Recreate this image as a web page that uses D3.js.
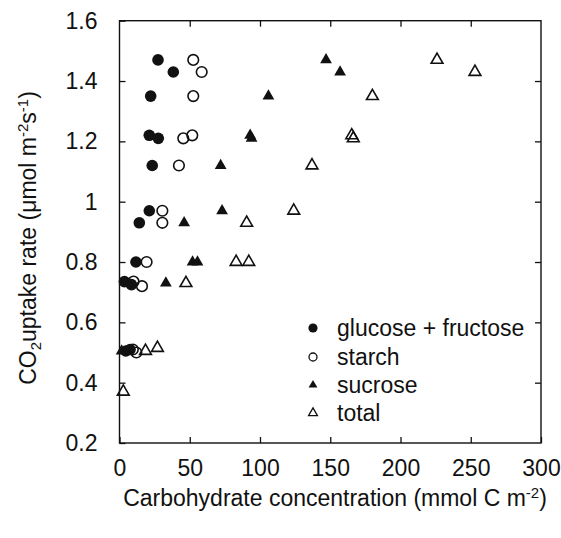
<!DOCTYPE html>
<html>
<head>
<meta charset="utf-8">
<script src="https://cdn.jsdelivr.net/npm/d3@7"></script>
<style>
  body { margin: 0; background: #fff; }
  text { font-family: "Liberation Sans", Arial, sans-serif; fill: #111; }
</style>
</head>
<body>
<script>
// data (x = mmol C m-2, y = umol m-2 s-1)
var gfX = [27.4, 38.3, 22.2, 21.2, 27.6, 23.3, 21.2, 14.1, 11.7, 3.5, 8.5, 4.5, 7.5];
var gfY = [1.47, 1.43, 1.35, 1.22, 1.21, 1.12, 0.97, 0.93, 0.80, 0.735, 0.725, 0.505, 0.51];

var stX = [52.5, 58.5, 52.5, 45.4, 51.8, 42.3, 30.5, 30.5, 19.3, 10, 16, 9.5, 12];
var stY = [1.47, 1.43, 1.35, 1.21, 1.22, 1.12, 0.97, 0.93, 0.80, 0.735, 0.72, 0.51, 0.50];

var suX = [147, 157, 106, 93, 94, 72, 73, 46, 52, 55.5, 33, 1.5];
var suY = [1.47, 1.43, 1.35, 1.22, 1.21, 1.12, 0.97, 0.93, 0.80, 0.80, 0.73, 0.505];

var toX = [226, 253, 180, 165.3, 166.4, 137, 124, 90.5, 83, 92, 47.3, 27, 18.5, 2.7];
var toY = [1.47, 1.43, 1.35, 1.22, 1.21, 1.12, 0.97, 0.93, 0.80, 0.80, 0.73, 0.515, 0.505, 0.37];

var xTicks = [0, 50, 100, 150, 200, 250, 300];
var yTicks = [0.2, 0.4, 0.6, 0.8, 1, 1.2, 1.4, 1.6];
var seriesNames = ["glucose + fructose", "starch", "sucrose", "total"];

var W = 561, H = 538;
var L = 119.5, R = 541, T = 20.7, B = 443;

var svg = d3.select("body").append("svg")
    .attr("width", W)
    .attr("height", H);

var x = d3.scaleLinear().domain([0, 300]).range([L, R]);
var y = d3.scaleLinear().domain([0.2, 1.6]).range([B, T]);

var fmt = function(d){ return String(+d.toFixed(1)); };

// bottom axis, ticks pointing inward
var xAxis = svg.append("g")
    .attr("transform", "translate(0," + B + ")")
    .call(d3.axisBottom(x).tickValues(xTicks).tickSizeInner(-6).tickSizeOuter(0).tickPadding(17).tickFormat(fmt));
// top ticks
var xTop = svg.append("g")
    .attr("transform", "translate(0," + T + ")")
    .call(d3.axisTop(x).tickValues(xTicks.slice(1, -1)).tickSizeInner(-6).tickSizeOuter(0).tickFormat(""));
var yAxis = svg.append("g")
    .attr("transform", "translate(" + L + ",0)")
    .call(d3.axisLeft(y).tickValues(yTicks).tickSizeInner(-6).tickSizeOuter(0).tickPadding(22).tickFormat(fmt));
var yRight = svg.append("g")
    .attr("transform", "translate(" + R + ",0)")
    .call(d3.axisRight(y).tickValues(yTicks.slice(1, -1)).tickSizeInner(-6).tickSizeOuter(0).tickFormat(""));

svg.selectAll(".domain").remove();
svg.selectAll(".tick line").attr("stroke", "#111").attr("stroke-width", 1.3);
svg.selectAll(".tick text").attr("font-size", 23).style("font-family", "'Liberation Sans', Arial, sans-serif").attr("fill", "#111");

// frame
svg.append("rect")
    .attr("x", L).attr("y", T)
    .attr("width", R - L).attr("height", B - T)
    .attr("fill", "none")
    .attr("stroke", "#111")
    .attr("stroke-width", 1.4);

// axis titles
var xt = svg.append("text")
    .attr("x", 335).attr("y", 506)
    .attr("text-anchor", "middle")
    .attr("font-size", 23);
xt.append("tspan").text("Carbohydrate concentration (mmol C m");
xt.append("tspan").attr("dy", -8).attr("font-size", 15).text("-2");
xt.append("tspan").attr("dy", 8).text(")");

var yt = svg.append("text")
    .attr("transform", "translate(36,238) rotate(-90)")
    .attr("text-anchor", "middle")
    .attr("font-size", 23);
yt.append("tspan").text("CO");
yt.append("tspan").attr("dy", 5).attr("font-size", 15).text("2");
yt.append("tspan").attr("dy", -5).text("uptake rate (\u03bcmol m");
yt.append("tspan").attr("dy", -8).attr("font-size", 15).text("-2");
yt.append("tspan").attr("dy", 8).text("s");
yt.append("tspan").attr("dy", -8).attr("font-size", 15).text("-1");
yt.append("tspan").attr("dy", 8).text(")");

var tri = d3.symbol().type(d3.symbolTriangle).size(60);
var triSmall = d3.symbol().type(d3.symbolTriangle).size(34);

function pts(xs, ys){
  return xs.map(function(v, i){ return [v, ys[i]]; });
}

// glucose + fructose
svg.append("g").selectAll("circle")
  .data(pts(gfX, gfY))
  .enter().append("circle")
    .attr("cx", function(d){ return x(d[0]); })
    .attr("cy", function(d){ return y(d[1]); })
    .attr("r", 5.8)
    .attr("fill", "#111");

// starch
svg.append("g").selectAll("circle")
  .data(pts(stX, stY))
  .enter().append("circle")
    .attr("cx", function(d){ return x(d[0]); })
    .attr("cy", function(d){ return y(d[1]); })
    .attr("r", 5.3)
    .attr("fill", "none")
    .attr("stroke", "#111")
    .attr("stroke-width", 1.6);

// sucrose
svg.append("g").selectAll("path")
  .data(pts(suX, suY))
  .enter().append("path")
    .attr("d", tri)
    .attr("transform", function(d){ return "translate(" + x(d[0]) + "," + y(d[1]) + ")"; })
    .attr("fill", "#111");

// total
svg.append("g").selectAll("path")
  .data(pts(toX, toY))
  .enter().append("path")
    .attr("d", tri)
    .attr("transform", function(d){ return "translate(" + x(d[0]) + "," + y(d[1]) + ")"; })
    .attr("fill", "none")
    .attr("stroke", "#111")
    .attr("stroke-width", 1.6);

// legend
var legend = svg.append("g");
var rowY = [328, 357, 385, 413];
legend.selectAll("text")
  .data(seriesNames)
  .enter().append("text")
    .attr("x", 337)
    .attr("y", function(d, i){ return rowY[i] + 8; })
    .attr("font-size", 23)
    .text(function(d){ return d; });

legend.append("circle").attr("cx", 313).attr("cy", rowY[0]).attr("r", 4.6).attr("fill", "#111");
legend.append("circle").attr("cx", 313).attr("cy", rowY[1]).attr("r", 4).attr("fill", "none").attr("stroke", "#111").attr("stroke-width", 1.3);
legend.append("path").attr("d", triSmall).attr("transform", "translate(313," + rowY[2] + ")").attr("fill", "#111");
legend.append("path").attr("d", triSmall).attr("transform", "translate(313," + rowY[3] + ")").attr("fill", "none").attr("stroke", "#111").attr("stroke-width", 1.3);
</script>
</body>
</html>
